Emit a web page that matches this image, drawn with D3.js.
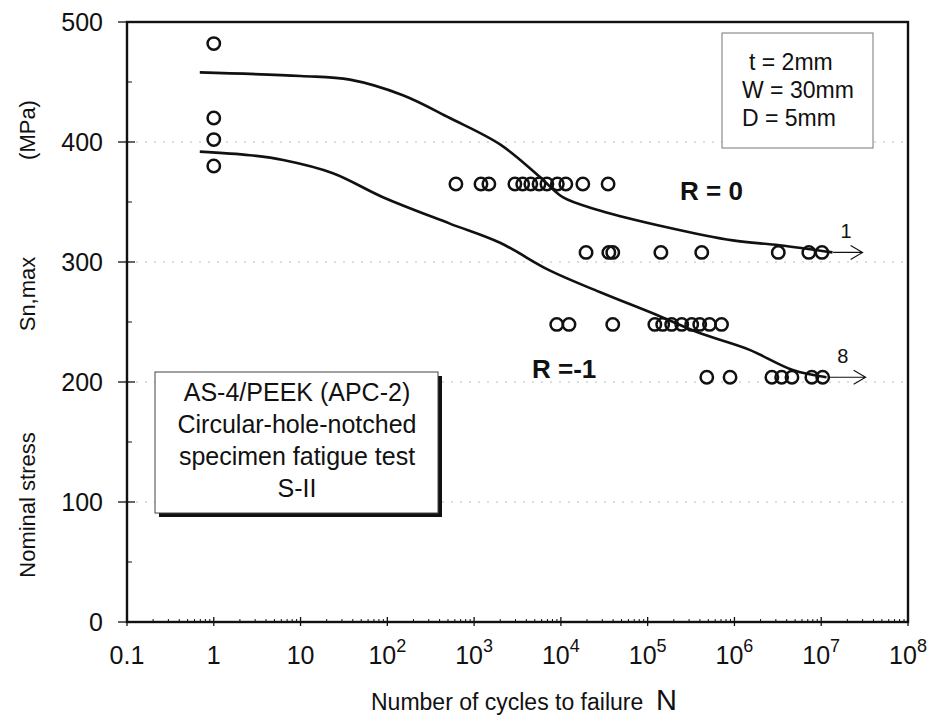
<!DOCTYPE html>
<html>
<head>
<meta charset="utf-8">
<script src="https://cdn.jsdelivr.net/npm/d3@7"></script>
<style>
  body { margin: 0; background: #fff; }
  text { font-family: 'Liberation Sans', Arial, sans-serif; fill: #111; }
</style>
</head>
<body>
<div id="chart"></div>
<script>
// test points, [cycles N, stress MPa]
const pointsN1 = [[1, 482], [1, 420], [1, 402], [1, 380]]
const points365 = [617, 1200, 1480, 2950, 3630, 4500, 5600, 6900, 9100, 11400, 17900, 35000]
const points308 = [19500, 35700, 39600, 142000, 420000, 3.2e6, 7.2e6, 1.02e7]
const points248 = [8960, 12400, 39600, 121000, 149000, 189000, 247000, 322000, 398000, 516000, 710000]
const points204 = [480000, 890000, 2.7e6, 3.5e6, 4.6e6, 7.8e6, 1.04e7]

// fitted curves
const curveR0 = [[0.69, 458], [10, 455], [37, 452], [151, 439], [525, 420], [1990, 398], [5700, 371],
  [10500, 354], [28000, 343], [166000, 329], [955000, 318], [3.3e6, 314], [1.35e7, 308]]
const curveRm1 = [[0.69, 392], [2.6, 389], [6.3, 385], [23.6, 374], [89, 354], [525, 332], [1990, 316],
  [7400, 293], [28000, 275], [126000, 256], [390000, 241], [1.47e6, 227], [4.7e6, 210], [1.15e7, 204]]

// run-outs: [N from, N to, stress, count]
const runouts = [[1.37e7, 3.0e7, 308, '1'], [1.26e7, 3.25e7, 204, '8']]

const xTicks = [0.1, 1, 10, 1e2, 1e3, 1e4, 1e5, 1e6, 1e7, 1e8]
const yTicks = [0, 100, 200, 300, 400, 500]
const infoLines = ['t = 2mm', 'W = 30mm', 'D = 5mm']
const boxLines = ['AS-4/PEEK (APC-2)', 'Circular-hole-notched', 'specimen fatigue test', 'S-II']

const width = 932
const height = 722
const margin = { left: 127, top: 22, right: 24, bottom: 100 }

const svg = d3.select('#chart').append('svg')
  .attr('width', width)
  .attr('height', height)

const x = d3.scaleLog().domain([0.1, 1e8]).range([margin.left, width - margin.right])
const y = d3.scaleLinear().domain([0, 500]).range([height - margin.bottom, margin.top])

// dotted grid
svg.append('g')
  .selectAll('line')
  .data(yTicks.filter(d => d > 0 && d < 500))
  .enter()
  .append('line')
  .attr('x1', x.range()[0])
  .attr('x2', x.range()[1])
  .attr('y1', d => y(d))
  .attr('y2', d => y(d))
  .attr('stroke', '#bbb')
  .attr('stroke-width', 1)
  .attr('stroke-dasharray', '2,7')

// minor ticks
const minorX = []
for (let e = -1; e < 8; e++) {
  for (let m = 2; m < 10; m++) minorX.push(m * Math.pow(10, e))
}
svg.append('g')
  .selectAll('line')
  .data(minorX)
  .enter()
  .append('line')
  .attr('x1', d => x(d))
  .attr('x2', d => x(d))
  .attr('y1', y(0))
  .attr('y2', y(0) - 3)
  .attr('stroke', '#111')

svg.append('g')
  .selectAll('line')
  .data(d3.range(50, 500, 100))
  .enter()
  .append('line')
  .attr('x1', x.range()[0])
  .attr('x2', x.range()[0] + 5)
  .attr('y1', d => y(d))
  .attr('y2', d => y(d))
  .attr('stroke', '#111')

// major ticks crossing the axes
svg.append('g')
  .selectAll('line')
  .data(xTicks)
  .enter()
  .append('line')
  .attr('x1', d => x(d))
  .attr('x2', d => x(d))
  .attr('y1', y(0) + 4)
  .attr('y2', y(0) - 5)
  .attr('stroke', '#111')
  .attr('stroke-width', 1.3)

svg.append('g')
  .selectAll('line')
  .data(yTicks)
  .enter()
  .append('line')
  .attr('x1', x.range()[0] - 9)
  .attr('x2', x.range()[0] + 8)
  .attr('y1', d => y(d))
  .attr('y2', d => y(d))
  .attr('stroke', '#111')
  .attr('stroke-width', 1.3)

// frame
svg.append('rect')
  .attr('x', x.range()[0])
  .attr('y', y(500))
  .attr('width', x.range()[1] - x.range()[0])
  .attr('height', y(0) - y(500))
  .attr('fill', 'none')
  .attr('stroke', '#111')
  .attr('stroke-width', 2.4)

// tick labels
svg.append('g')
  .selectAll('text')
  .data(yTicks)
  .enter()
  .append('text')
  .attr('x', x.range()[0] - 24)
  .attr('y', d => y(d) + 9)
  .attr('text-anchor', 'end')
  .style('font-size', '25px')
  .text(d => d)

const xl = svg.append('g')
  .selectAll('text')
  .data(xTicks)
  .enter()
  .append('text')
  .attr('x', d => x(d))
  .attr('y', 664)
  .attr('text-anchor', 'middle')
  .style('font-size', '25px')

xl.each(function (d) {
  const t = d3.select(this)
  if (d <= 10) {
    t.text(d === 0.1 ? '0.1' : String(d))
  } else {
    t.append('tspan').text('10')
    t.append('tspan').attr('dy', -12).style('font-size', '18px').text(Math.round(Math.log10(d)))
  }
})

// axis titles
const yTitle = [['Nominal stress', 505], ['Sn,max', 294], ['(MPa)', 130]]
svg.append('g')
  .selectAll('text')
  .data(yTitle)
  .enter()
  .append('text')
  .attr('transform', d => 'translate(35,' + d[1] + ') rotate(-90)')
  .attr('text-anchor', 'middle')
  .style('font-size', '22px')
  .text(d => d[0])

const xt = svg.append('text')
  .attr('x', 524)
  .attr('y', 710)
  .attr('text-anchor', 'middle')
  .style('font-size', '23px')
  .attr('xml:space', 'preserve')
xt.append('tspan').text('Number of cycles to failure  ')
xt.append('tspan').style('font-size', '29px').text('N')

// fitted curves
const line = d3.line()
  .x(d => x(d[0]))
  .y(d => y(d[1]))
  .curve(d3.curveCatmullRom)

svg.selectAll('path.fit')
  .data([curveR0, curveRm1])
  .enter()
  .append('path')
  .attr('class', 'fit')
  .attr('d', line)
  .attr('fill', 'none')
  .attr('stroke', '#111')
  .attr('stroke-width', 2.6)

// points
const allPoints = pointsN1
  .concat(points365.map(n => [n, 365]))
  .concat(points308.map(n => [n, 308]))
  .concat(points248.map(n => [n, 248]))
  .concat(points204.map(n => [n, 204]))

svg.append('g')
  .selectAll('circle')
  .data(allPoints)
  .enter()
  .append('circle')
  .attr('cx', d => x(d[0]))
  .attr('cy', d => y(d[1]))
  .attr('r', 6.2)
  .attr('fill', 'none')
  .attr('stroke', '#111')
  .attr('stroke-width', 2.5)

// run-out arrows
const ro = svg.append('g').selectAll('g')
  .data(runouts)
  .enter()
  .append('g')

ro.append('path')
  .attr('d', d => {
    const x0 = x(d[0]); const x1 = x(d[1]); const yy = y(d[2])
    return 'M' + x0 + ',' + yy + 'H' + x1 + 'M' + (x1 - 12) + ',' + (yy - 7) + 'L' + x1 + ',' + yy + 'L' + (x1 - 12) + ',' + (yy + 7)
  })
  .attr('fill', 'none')
  .attr('stroke', '#111')
  .attr('stroke-width', 1.1)

ro.append('text')
  .attr('x', d => x(d[0]) + 13)
  .attr('y', d => y(d[2]) - 14)
  .attr('text-anchor', 'middle')
  .style('font-size', '20px')
  .text(d => d[3])

// R labels
svg.append('text')
  .attr('x', 680)
  .attr('y', 200)
  .style('font-size', '26px')
  .style('font-weight', 'bold')
  .attr('xml:space', 'preserve')
  .text('R = 0')

svg.append('text')
  .attr('x', 532)
  .attr('y', 378)
  .style('font-size', '26px')
  .style('font-weight', 'bold')
  .text('R =-1')

// info box top right
svg.append('rect')
  .attr('x', 722)
  .attr('y', 33)
  .attr('width', 151)
  .attr('height', 115)
  .attr('fill', '#fff')
  .attr('stroke', '#777')
  .attr('stroke-width', 1)

svg.append('g')
  .selectAll('text')
  .data(infoLines)
  .enter()
  .append('text')
  .attr('x', (d, i) => i === 0 ? 749 : 742)
  .attr('y', (d, i) => 70 + i * 28)
  .style('font-size', '23px')
  .text(d => d)

// material box with shadow
svg.append('rect')
  .attr('x', 159)
  .attr('y', 376)
  .attr('width', 283)
  .attr('height', 141)
  .attr('fill', '#111')

svg.append('rect')
  .attr('x', 155)
  .attr('y', 372)
  .attr('width', 283)
  .attr('height', 141)
  .attr('fill', '#fff')
  .attr('stroke', '#444')
  .attr('stroke-width', 1)

svg.append('g')
  .selectAll('text')
  .data(boxLines)
  .enter()
  .append('text')
  .attr('x', 297)
  .attr('y', (d, i) => 401 + i * 32)
  .attr('text-anchor', 'middle')
  .style('font-size', '25px')
  .text(d => d)
</script>
</body>
</html>
